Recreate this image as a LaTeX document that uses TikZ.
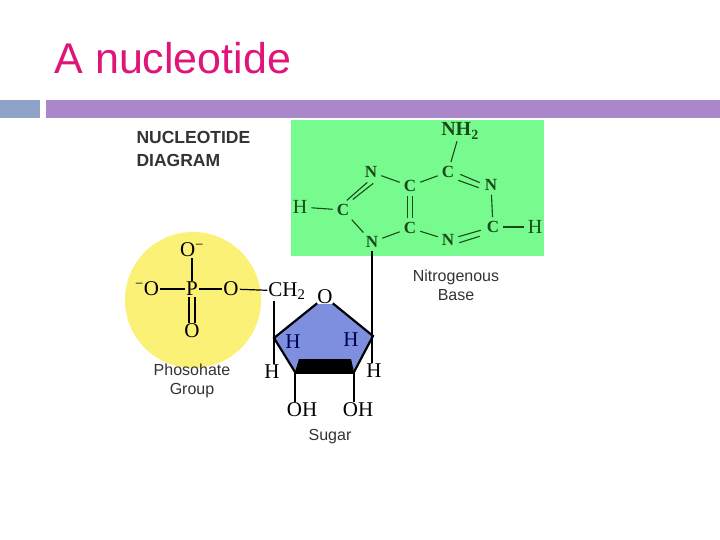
\documentclass[tikz,border=0pt]{standalone}
\usetikzlibrary{calc}
\usepackage{fontspec}
\setmainfont{Liberation Serif}
\newfontfamily\sans{Liberation Sans}
\definecolor{titlec}{HTML}{E0157A}
\definecolor{barb}{HTML}{8FA3C8}
\definecolor{barp}{HTML}{A987C8}
\definecolor{grn}{HTML}{77FB8F}
\definecolor{ylw}{HTML}{FBF176}
\definecolor{sug}{HTML}{7E8FE0}
\definecolor{dg}{HTML}{1A4A1A}
\definecolor{lab}{HTML}{333333}
\begin{document}
\begin{tikzpicture}[x=1pt,y=-1pt,
  ch/.style={font=\fontsize{21}{21}\selectfont, inner sep=1pt},
  gch/.style={font=\fontsize{17}{17}\selectfont\bfseries, text=dg, inner sep=3pt},
  lb/.style={font=\sans\fontsize{16}{19}\selectfont, text=lab, align=center},
  bd/.style={line width=1.2pt},
  gbd/.style={line width=1.1pt, draw=dg, shorten <=1pt, shorten >=1pt}]
\useasboundingbox (0,0) rectangle (720,540);
\fill[white] (0,0) rectangle (720,540);
\node[font=\sans\fontsize{43}{43}\selectfont, text=titlec, anchor=west] (title) at (51,58) {A nucleotide};
\fill[barb] (0,100) rectangle (40,118);
\fill[barp] (46,100) rectangle (720,118);
\node[font=\sans\bfseries\fontsize{17.5}{23}\selectfont, text=lab, align=left, anchor=north west] (hd) at (133,128) {NUCLEOTIDE\\ DIAGRAM};
% regions
\fill[grn] (291,120) rectangle (544,256);
\fill[ylw] (193,300) circle (68);
% nitrogenous base
\node[gch, inner sep=1pt, font=\fontsize{20}{20}\selectfont\bfseries] (nh) at (460,131) {NH\textsubscript{2}};
\node[gch] (c1) at (448,172) {C};
\node[gch] (n1) at (491,185) {N};
\node[gch] (c2) at (493,227) {C};
\node[gch, font=\fontsize{20}{20}\selectfont] (h2) at (535,227) {H};
\node[gch] (n3) at (448,240) {N};
\node[gch] (c4) at (410,228) {C};
\node[gch] (c5) at (410,186) {C};
\node[gch] (n7) at (371,172) {N};
\node[gch] (c8) at (343,210) {C};
\node[gch, font=\fontsize{20}{20}\selectfont] (h8) at (300,207) {H};
\node[gch] (n9) at (372,242) {N};
\draw[gbd] (nh) -- (c1);
\draw[gbd] (c1) -- (c5);
\draw[gbd] (c5) -- (n7);
\draw[gbd] ($(c1.east)+(2,2)$) -- ($(n1.west)+(-1,-2)$);
\draw[gbd] ($(c1.east)+(0,8)$) -- ($(n1.west)+(-2,3)$);
\draw[gbd] (n1) -- (c2);
\draw[gbd] (c2) -- (h2);
\draw[gbd] ($(c2.west)+(-2,3)$) -- ($(n3.east)+(0,-3)$);
\draw[gbd] ($(c2.west)+(-3,9)$) -- ($(n3.east)+(1,3)$);
\draw[gbd] (n3) -- (c4);
\draw[gbd] ([xshift=-2.5]c5.south) -- ([xshift=-2.5]c4.north);
\draw[gbd] ([xshift=2.5]c5.south) -- ([xshift=2.5]c4.north);
\draw[gbd] (c4) -- (n9);
\draw[gbd] (n9) -- (c8);
\draw[gbd] ([xshift=-3,yshift=-1]n7.south) -- ([xshift=3]c8.north);
\draw[gbd] ([xshift=3,yshift=-2]n7.south) -- ([xshift=9,yshift=1]c8.north);
\draw[gbd] (c8) -- (h8);
\node[lb] (nb) at (456,285) {Nitrogenous\\Base};
% phosphate
\node[ch] (ot) at (192,250) {O\textsuperscript{\textminus}};
\node[ch] (ol) at (147,289) {\textsuperscript{\textminus}O};
\node[ch] (p) at (192,289) {P};
\node[ch] (or) at (231,289) {O};
\node[ch] (ch2) at (287,291) {CH\textsubscript{2}};
\node[ch] (ob) at (192,331) {O};
\draw[bd] (ot.south -| p) -- (p);
\draw[bd] (ol) -- (p);
\draw[bd] (p) -- (or);
\draw[bd] (or) -- (ch2);
\draw[bd] ([xshift=-3]p.south) -- ([xshift=-3]ob.north);
\draw[bd] ([xshift=3]p.south) -- ([xshift=3]ob.north);
\node[lb] (pg) at (192,381) {Phosohate\\Group};
% sugar
\coordinate (vl) at (274,338);
\coordinate (vr) at (373,336);
\coordinate (vbl) at (295,372);
\coordinate (vbr) at (354,372);
\coordinate (vt) at (325,296);
\fill[sug] (vt) -- (vr) -- (vbr) -- (vbl) -- (vl) -- cycle;
\node[ch, fill=white, inner sep=0pt] (ro) at (325,297) {O};
\draw[line width=2.2pt] (ro) -- (vr) -- (vbr);
\draw[line width=2.2pt] (ro) -- (vl) -- (vbl);
\fill (vbl) -- (vbr) -- ++(-3,-13) -- ($(vbl)+(4,-13)$) -- cycle;
\draw[line width=3pt] (vbl) -- (vbr);
\node[ch, text=black!70!blue] (hi1) at (293,342) {H};
\node[ch, text=black!70!blue] (hi2) at (351,340) {H};
\node[ch] (ho1) at (272,372) {H};
\node[ch] (ho2) at (374,371) {H};
\node[ch] (oh1) at (302,410) {OH};
\node[ch] (oh2) at (358,410) {OH};
\draw[bd] ([xshift=-13]ch2.south) -- (vl |- ho1.north);
\draw[bd] (n9.south) -- (n9.south |- ho2.north);
\draw[bd] (vbl) -- (vbl |- oh1.north);
\draw[bd] (vbr) -- (vbr |- oh2.north);
\node[lb] (sg) at (330,437) {Sugar};
\end{tikzpicture}
\end{document}
